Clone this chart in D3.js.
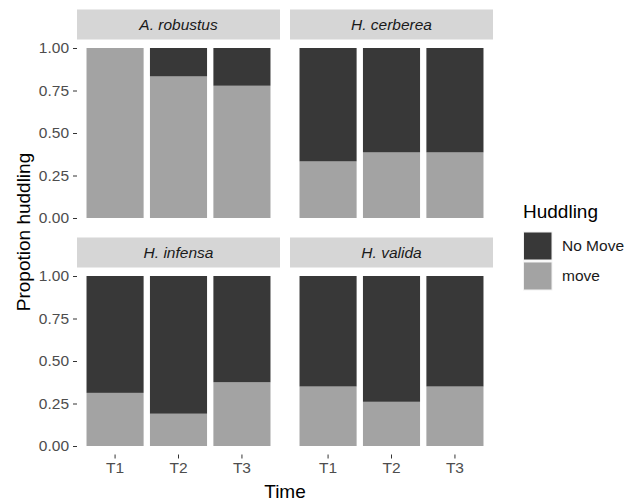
<!DOCTYPE html>
<html>
<head>
<meta charset="utf-8">
<script src="https://cdn.jsdelivr.net/npm/d3@7"></script>
<style>
  body { margin: 0; background: #fff; }
  text { font-family: "Liberation Sans", Arial, sans-serif; }
</style>
</head>
<body>
<div id="chart"></div>
<script>
// data: proportion of "move" per species and time (rest is "No Move")
var species = ["A. robustus", "H. cerberea", "H. infensa", "H. valida"];
var times = ["T1", "T2", "T3"];
var moveProp = [
    [1.00, 0.833, 0.778],
    [0.333, 0.386, 0.386],
    [0.3125, 0.19, 0.375],
    [0.35, 0.26, 0.35]
];
var yTicks = [0, 0.25, 0.5, 0.75, 1];
var legendKeys = ["No Move", "move"];
var colors = {"No Move": "#383838", "move": "#a3a3a3"};

var width = 638, height = 502;
var panelW = 203, panelH = 187, stripH = 30;
var panelX = [77, 290];
var panelY = [39.5, 267.5];

var svg = d3.select("#chart").append("svg")
    .attr("width", width)
    .attr("height", height);

var x = d3.scaleBand()
    .domain(times)
    .range([0, panelW])
    .paddingInner(0.1)
    .paddingOuter(0.15);

var y = d3.scaleLinear()
    .domain([-0.05, 1.05])
    .range([panelH, 0]);

species.forEach(function (sp, i) {
    var col = i % 2, row = Math.floor(i / 2);
    var g = svg.append("g")
        .attr("transform", "translate(" + panelX[col] + "," + panelY[row] + ")");

    // strip
    g.append("rect")
        .attr("x", 0)
        .attr("y", -stripH)
        .attr("width", panelW)
        .attr("height", stripH)
        .attr("fill", "#d6d6d6");
    g.append("text")
        .attr("x", panelW / 2)
        .attr("y", -stripH / 2)
        .attr("dy", "0.35em")
        .attr("text-anchor", "middle")
        .style("font-size", "15.5px")
        .style("font-style", "italic")
        .attr("fill", "#1a1a1a")
        .text(sp);

    var stacks = times.map(function (t, j) {
        var m = moveProp[i][j];
        return {time: t, move: m, nomove: 1 - m};
    });

    // move (bottom)
    g.selectAll(".move")
        .data(stacks)
        .enter().append("rect")
        .attr("class", "move")
        .attr("x", function (d) { return x(d.time); })
        .attr("width", x.bandwidth())
        .attr("y", function (d) { return y(d.move); })
        .attr("height", function (d) { return y(0) - y(d.move); })
        .attr("fill", colors["move"]);

    // no move (top)
    g.selectAll(".nomove")
        .data(stacks.filter(function (d) { return d.nomove > 0; }))
        .enter().append("rect")
        .attr("class", "nomove")
        .attr("x", function (d) { return x(d.time); })
        .attr("width", x.bandwidth())
        .attr("y", function (d) { return y(1); })
        .attr("height", function (d) { return y(d.move) - y(1); })
        .attr("fill", colors["No Move"]);

    if (col === 0) {
        var ya = g.append("g")
            .call(d3.axisLeft(y).tickValues(yTicks).tickFormat(d3.format(".2f")).tickSize(4).tickPadding(4));
        ya.select(".domain").remove();
        ya.selectAll("line").attr("stroke", "#333");
        ya.selectAll("text").attr("fill", "#4d4d4d").style("font-size", "15.5px")
            .style("font-family", "Liberation Sans, Arial, sans-serif");
    }
    if (row === 1) {
        var xa = g.append("g")
            .attr("transform", "translate(0," + panelH + ")")
            .call(d3.axisBottom(x).tickSize(4).tickPadding(3));
        xa.select(".domain").remove();
        xa.selectAll("line").attr("stroke", "#333");
        xa.selectAll("text").attr("fill", "#4d4d4d").style("font-size", "15.5px")
            .style("font-family", "Liberation Sans, Arial, sans-serif");
    }
});

// axis titles
svg.append("text")
    .attr("x", (panelX[0] + panelX[1] + panelW) / 2)
    .attr("y", 498)
    .attr("text-anchor", "middle")
    .style("font-size", "19px")
    .text("Time");

svg.append("text")
    .attr("transform", "translate(29.5," + (panelY[0] - stripH + panelY[1] + panelH) / 2 + ") rotate(-90)")
    .attr("text-anchor", "middle")
    .style("font-size", "19px")
    .text("Propotion huddling");

// legend
var leg = svg.append("g").attr("transform", "translate(523,218)");
leg.append("text")
    .attr("x", 0)
    .attr("y", 0)
    .style("font-size", "19px")
    .text("Huddling");

legendKeys.forEach(function (k, i) {
    leg.append("rect")
        .attr("x", 0.5)
        .attr("y", 14 + i * 30)
        .attr("width", 28.5)
        .attr("height", 28)
        .attr("fill", colors[k])
        .attr("stroke", "#f2f2f2")
        .attr("stroke-width", 1);
    leg.append("text")
        .attr("x", 39)
        .attr("y", 28 + i * 30)
        .attr("dy", "0.35em")
        .style("font-size", "15.5px")
        .attr("fill", "#1a1a1a")
        .text(k);
});
</script>
</body>
</html>
